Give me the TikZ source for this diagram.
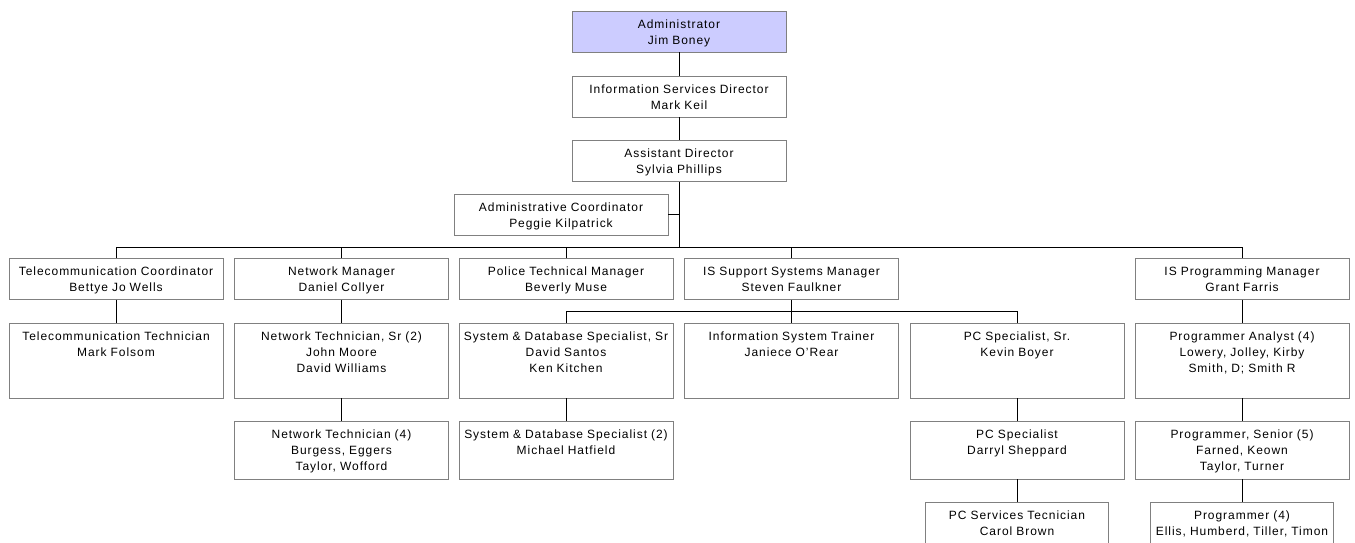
\documentclass[tikz,border=0pt]{standalone}
\usepackage{fontspec}
\setmainfont{Liberation Sans}[LetterSpace=8]
\definecolor{headfill}{RGB}{204,204,255}
\definecolor{boxline}{RGB}{128,128,128}

\tikzset{
  orgbox/.style={draw=boxline, line width=0.9pt, text width=212pt, align=center,
    inner xsep=1pt, inner ysep=0pt, text height=17pt,
    font=\fontsize{12pt}{16pt}\selectfont},
  rankbox/.style={orgbox, text depth=24pt},
  staffbox/.style={orgbox, text depth=58pt},
  teambox/.style={orgbox, text depth=41pt},
  link/.style={line width=0.9pt}
}

\begin{document}
\begin{tikzpicture}[x=1pt,y=-1pt]
\useasboundingbox (0,0) rectangle (1355,542);
\clip (0,0) rectangle (1355,542);

% head of the department
\node[rankbox,fill=headfill] (admin) at (679,31.5) {Administrator\\Jim Boney};
\node[rankbox] (isdir) at (679,96.5) {Information Services Director\\Mark Keil};
\node[rankbox] (asst) at (679,161) {Assistant Director\\Sylvia Phillips};
\node[rankbox] (coord) at (561,214.5) {Administrative Coordinator\\Peggie Kilpatrick};
\coordinate (bus) at (679,247);
\coordinate (subbus) at (791.5,311);

% managers
\node[rankbox] (telecom) at (116,279) {Telecommunication Coordinator\\Bettye Jo Wells};
\node[rankbox] (netmgr) at (341.5,279) {Network Manager\\Daniel Collyer};
\node[rankbox] (police) at (566,279) {Police Technical Manager\\Beverly Muse};
\node[rankbox] (issup) at (791.5,279) {IS Support Systems Manager\\Steven Faulkner};
\node[rankbox] (progmgr) at (1242,279) {IS Programming Manager\\Grant Farris};

% staff
\node[staffbox] (telecomtech) at (116,360.5) {Telecommunication Technician\\Mark Folsom};
\node[staffbox] (nettechsr) at (341.5,360.5) {Network Technician, Sr (2)\\John Moore\\David Williams};
\node[staffbox] (sysdbsr) at (566,360.5) {System \& Database Specialist, Sr\\David Santos\\Ken Kitchen};
\node[staffbox] (trainer) at (791.5,360.5) {Information System Trainer\\Janiece O'Rear};
\node[staffbox] (pcsr) at (1017,360.5) {PC Specialist, Sr.\\Kevin Boyer};
\node[staffbox] (proganalyst) at (1242,360.5) {Programmer Analyst (4)\\Lowery, Jolley, Kirby\\Smith, D; Smith R};

\node[teambox] (nettech) at (341.5,450) {Network Technician (4)\\Burgess, Eggers\\Taylor, Wofford};
\node[teambox] (sysdb) at (566,450) {System \& Database Specialist (2)\\Michael Hatfield};
\node[teambox] (pcspec) at (1017,450) {PC Specialist\\Darryl Sheppard};
\node[teambox] (progsr) at (1242,450) {Programmer, Senior (5)\\Farned, Keown\\Taylor, Turner};

\node[teambox,text width=181pt] (pcsvc) at (1017,531) {PC Services Tecnician\\Carol Brown};
\node[teambox,text width=181pt] (prog) at (1242,531) {Programmer (4)\\Ellis, Humberd, Tiller, Timon};

% reporting lines
\draw[link] (admin) -- (isdir);
\draw[link] (isdir) -- (asst);
\draw[link] (asst) -- (bus);
\draw[link] (coord.east) -- (coord.east -| bus);
\draw[link] (telecom) -- (telecom |- bus) -- (progmgr |- bus) -- (progmgr);
\draw[link] (netmgr) -- (netmgr |- bus);
\draw[link] (police) -- (police |- bus);
\draw[link] (issup) -- (issup |- bus);

\draw[link] (issup) -- (subbus);
\draw[link] (sysdbsr) -- (sysdbsr |- subbus) -- (pcsr |- subbus) -- (pcsr);
\draw[link] (trainer) -- (trainer |- subbus);

\draw[link] (telecom) -- (telecomtech);
\draw[link] (netmgr) -- (nettechsr);
\draw[link] (nettechsr) -- (nettech);
\draw[link] (sysdbsr) -- (sysdb);
\draw[link] (pcsr) -- (pcspec);
\draw[link] (pcspec) -- (pcsvc);
\draw[link] (progmgr) -- (proganalyst);
\draw[link] (proganalyst) -- (progsr);
\draw[link] (progsr) -- (prog);
\end{tikzpicture}
\end{document}
